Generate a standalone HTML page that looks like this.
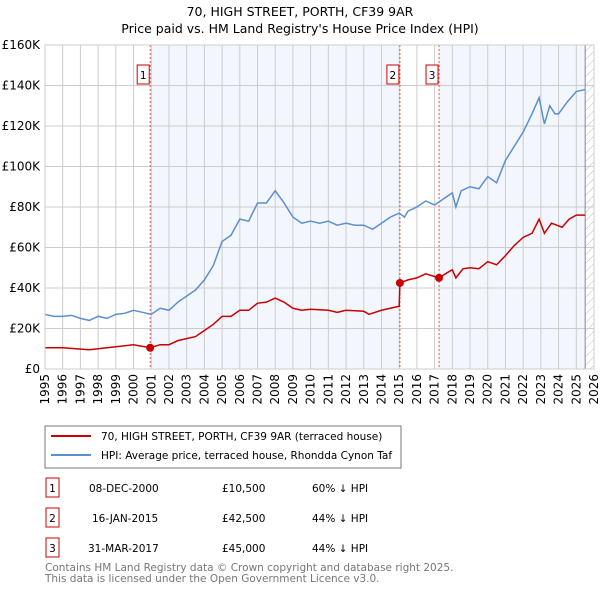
<!DOCTYPE html>
<html><head><meta charset="utf-8"><style>
body{margin:0;background:#fff;font-family:"Liberation Sans","DejaVu Sans",sans-serif;}
svg text{font-family:"DejaVu Sans","Liberation Sans",sans-serif;}
</style></head><body>
<svg id="c" width="600" height="590" xmlns="http://www.w3.org/2000/svg">
<defs><pattern id="hatch" width="6" height="6" patternUnits="userSpaceOnUse" patternTransform="rotate(45)"><line x1="0" y1="0" x2="0" y2="6" stroke="#bbb" stroke-width="1"/></pattern></defs>
<text x="300" y="16" text-anchor="middle" font-size="12.5">70, HIGH STREET, PORTH, CF39 9AR</text>
<text x="300" y="33" text-anchor="middle" font-size="12.5">Price paid vs. HM Land Registry's House Price Index (HPI)</text>
<g id="plot"></g>
<rect x="45" y="426" width="356" height="42" fill="#fff" stroke="#777"/>
<line x1="51" y1="436" x2="91" y2="436" stroke="#cc0000" stroke-width="2"/>
<text x="101" y="440" font-size="10.5">70, HIGH STREET, PORTH, CF39 9AR (terraced house)</text>
<line x1="51" y1="455" x2="91" y2="455" stroke="#5b8fd0" stroke-width="2"/>
<text x="101" y="459" font-size="10.5">HPI: Average price, terraced house, Rhondda Cynon Taf</text>
<g font-size="10.5">
<rect x="46" y="478" width="13" height="19" fill="#fff" stroke="#c00"/><text x="52.5" y="492" text-anchor="middle">1</text>
<text x="89" y="492">08-DEC-2000</text><text x="222" y="492">£10,500</text><text x="312" y="492">60% ↓ HPI</text>
<rect x="46" y="508" width="13" height="19" fill="#fff" stroke="#c00"/><text x="52.5" y="522" text-anchor="middle">2</text>
<text x="92" y="522">16-JAN-2015</text><text x="222" y="522">£42,500</text><text x="312" y="522">44% ↓ HPI</text>
<rect x="46" y="538" width="13" height="19" fill="#fff" stroke="#c00"/><text x="52.5" y="552" text-anchor="middle">3</text>
<text x="88" y="552">31-MAR-2017</text><text x="222" y="552">£45,000</text><text x="312" y="552">44% ↓ HPI</text>
</g>
<text x="45" y="571" font-size="10.5" fill="#777">Contains HM Land Registry data © Crown copyright and database right 2025.</text>
<text x="45" y="582" font-size="10.5" fill="#777">This data is licensed under the Open Government Licence v3.0.</text>
</svg>
<script>
const hpiYears=[1995,1995.5,1996,1996.5,1997,1997.5,1998,1998.5,1999,1999.5,2000,2000.5,2001,2001.5,2002,2002.5,2003,2003.5,2004,2004.5,2005,2005.5,2006,2006.5,2007,2007.5,2008,2008.5,2009,2009.5,2010,2010.5,2011,2011.5,2012,2012.5,2013,2013.5,2014,2014.5,2015,2015.3,2015.5,2016,2016.5,2017,2017.5,2018,2018.2,2018.5,2019,2019.5,2020,2020.5,2021,2021.5,2022,2022.5,2022.9,2023.2,2023.5,2023.8,2024,2024.5,2025,2025.5];
const hpiValues=[27,26,26,26.5,25,24,26,25,27,27.5,29,28,27,30,29,33,36,39,44,51,63,66,74,73,82,82,88,82,75,72,73,72,73,71,72,71,71,69,72,75,77,75,78,80,83,81,84,87,80,88,90,89,95,92,103,110,117,126,134,121,130,126,126,132,137,138];
const propYears=[1995,1996,1997.5,1998.5,2000,2000.94,2001.5,2002,2002.5,2003.5,2004,2004.5,2005,2005.5,2006,2006.5,2007,2007.5,2008,2008.5,2009,2009.5,2010,2011,2011.5,2012,2013,2013.3,2014,2015.0,2015.04,2015.5,2016,2016.5,2017.25,2017.7,2018,2018.2,2018.6,2019,2019.5,2020,2020.5,2021,2021.5,2022,2022.5,2022.9,2023.2,2023.6,2024.2,2024.6,2025,2025.5];
const propValues=[10.5,10.5,9.5,10.5,12,10.5,12,12,14,16,19,22,26,26,29,29,32.5,33,35,33,30,29,29.5,29,28,29,28.5,27,29,31,42.5,44,45,47,45,47.5,49,45,49.5,50,49.5,53,51.5,56,61,65,67,74,67,72,70,74,76,76];
const saleLabels=["1","2","3"];
const saleYears=[2000.94,2015.04,2017.25];
const saleValues=[10.5,42.5,45];
const yTicks=[0,20,40,60,80,100,120,140,160];
const yTickLabels=["£0","£20K","£40K","£60K","£80K","£100K","£120K","£140K","£160K"];
const xTicks=[1995,1996,1997,1998,1999,2000,2001,2002,2003,2004,2005,2006,2007,2008,2009,2010,2011,2012,2013,2014,2015,2016,2017,2018,2019,2020,2021,2022,2023,2024,2025,2026];

const L=45,R=594,T=45,B=369,x0=1995,x1=2026,yMax=160;
const X=v=>L+(v-x0)/(x1-x0)*(R-L);
const Y=v=>B-v/yMax*(B-T);
const NS="http://www.w3.org/2000/svg";
const g=document.getElementById('plot');
function mk(tag,attrs,parent){const e=document.createElementNS(NS,tag);for(const k in attrs)e.setAttribute(k,attrs[k]);(parent||g).appendChild(e);return e;}
let e;
e=mk('rect',{x:L,y:T,width:R-L,height:B-T,fill:'#fff'});


e=mk('rect',{x:X(saleYears[0]),y:T,width:X(saleYears[1])-X(saleYears[0]),height:B-T,fill:'#eef3fc',opacity:0.7});


e=mk('rect',{x:X(saleYears[2]),y:T,width:X(2025.5)-X(saleYears[2]),height:B-T,fill:'#eef3fc',opacity:0.7});


e=mk('rect',{x:X(2025.5),y:T,width:R-X(2025.5),height:B-T,fill:'url(#hatch)'});


yTicks.forEach((t,i)=>{
  e=mk('line',{x1:L,x2:R,y1:Y(t),y2:Y(t),stroke:'#ccc','stroke-width':1});
  
  
  e=mk('text',{x:L-5,y:Y(t)+4,'text-anchor':'end','font-size':12});
  e.textContent=yTickLabels[i];
  
  
});
xTicks.forEach(t=>{
  e=mk('line',{x1:X(t),x2:X(t),y1:T,y2:B,stroke:'#ccc','stroke-width':1});
  
  
  e=mk('text',{x:0,y:0,'text-anchor':'end','font-size':12,transform:`translate(${X(t)+4},${B+5}) rotate(-90)`});
  e.textContent=t;
  
  
});
e=mk('line',{x1:X(2025.5),x2:X(2025.5),y1:T,y2:B,stroke:'#888','stroke-width':1});


saleYears.forEach((s,i)=>{
  e=mk('line',{x1:X(s),x2:X(s),y1:T,y2:B,stroke:'#e05050','stroke-width':1,'stroke-dasharray':'2,2'});
  
  
  e=mk('rect',{x:X(s)-13,y:65,width:12,height:19,fill:'#fff',stroke:'#c00'});
  
  
  e=mk('text',{x:X(s)-7,y:79,'text-anchor':'middle','font-size':10.5});
  e.textContent=saleLabels[i];
  
  
});
e=mk('polyline',{points:hpiYears.map((v,i)=>X(v)+','+Y(hpiValues[i])).join(' '),fill:'none',stroke:'#5b8fd0','stroke-width':1.5});


e=mk('polyline',{points:propYears.map((v,i)=>X(v)+','+Y(propValues[i])).join(' '),fill:'none',stroke:'#cc0000','stroke-width':1.5});


saleYears.forEach((s,i)=>{
  e=mk('circle',{cx:X(s),cy:Y(saleValues[i]),r:4,fill:'#cc0000'});
  
  
});
e=mk('rect',{x:L,y:T,width:R-L,height:B-T,fill:'none',stroke:'#ccc'});


</script>
</body></html>
